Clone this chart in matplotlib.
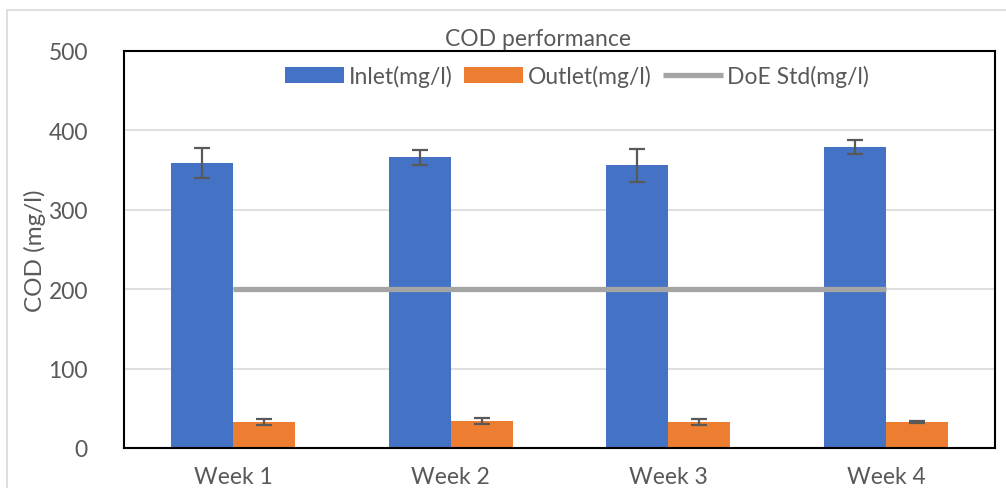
import numpy as np
import matplotlib
matplotlib.use("Agg")
import matplotlib.pyplot as plt
from matplotlib.patches import Rectangle

plt.rcParams['font.family'] = ['Lato', 'DejaVu Sans']

# Data
weeks = ["Week 1", "Week 2", "Week 3", "Week 4"]
inlet = [359, 366, 356, 379]
inlet_err = [19, 9, 21, 9]
outlet = [33, 34, 33, 33]
outlet_err = [4, 4, 4, 1]
doe_std = [200, 200, 200, 200]

text_col = "#595959"
fs = 16.5

fig = plt.figure(figsize=(10.06, 4.89), dpi=100)
# outer chart border
fig.patches.append(Rectangle((7 / 1006, -0.1), 1.2, (489 - 11) / 489 + 0.1,
                             transform=fig.transFigure, fill=False,
                             edgecolor="#D9D9D9", linewidth=1.2))

ax = fig.add_axes([124 / 1006, 40 / 489, 871 / 1006, 397 / 489])

x = np.arange(len(weeks))
w = 0.285
b1 = ax.bar(x - w / 2, inlet, w, color="#4472C4", label="Inlet(mg/l)", zorder=2,
            yerr=inlet_err, error_kw=dict(ecolor=text_col, elinewidth=1.6,
                                          capsize=6, capthick=1.6, zorder=3))
b2 = ax.bar(x + w / 2, outlet, w, color="#ED7D31", label="Outlet(mg/l)", zorder=2,
            yerr=outlet_err, error_kw=dict(ecolor=text_col, elinewidth=1.6,
                                           capsize=6, capthick=1.6, zorder=3))
l1, = ax.plot(x, doe_std, color="#A5A5A5", linewidth=3.8, label="DoE Std(mg/l)",
              zorder=4, solid_capstyle="butt")

ax.set_xlim(-0.5, len(weeks) - 0.5)
ax.set_ylim(0, 500)
ax.set_yticks(np.arange(0, 501, 100))
ax.set_xticks(x)
ax.set_xticklabels(weeks)
ax.yaxis.grid(True, color="#D9D9D9", linewidth=1.2, zorder=0)
ax.set_axisbelow(True)
ax.tick_params(axis="both", length=0, labelsize=fs, labelcolor=text_col)
ax.tick_params(axis="x", pad=13)
ax.tick_params(axis="y", pad=26)
for s in ax.spines.values():
    s.set_color("black")
    s.set_linewidth(1.5)

ax.set_ylabel("COD (mg/l)", fontsize=fs + 1, color=text_col, labelpad=2)
fig.text(538 / 1006, (489 - 39) / 489, "COD performance", ha="center",
         va="center", fontsize=fs, color=text_col)

leg = ax.legend([b1, b2, l1], ["Inlet(mg/l)", "Outlet(mg/l)", "DoE Std(mg/l)"],
                loc="center", bbox_to_anchor=(0.52, 0.937), ncol=3,
                frameon=False, fontsize=fs, handlelength=2.6,
                handletextpad=0.2, columnspacing=0.5)
for t in leg.get_texts():
    t.set_color(text_col)

fig.savefig("out.png", dpi=100)
